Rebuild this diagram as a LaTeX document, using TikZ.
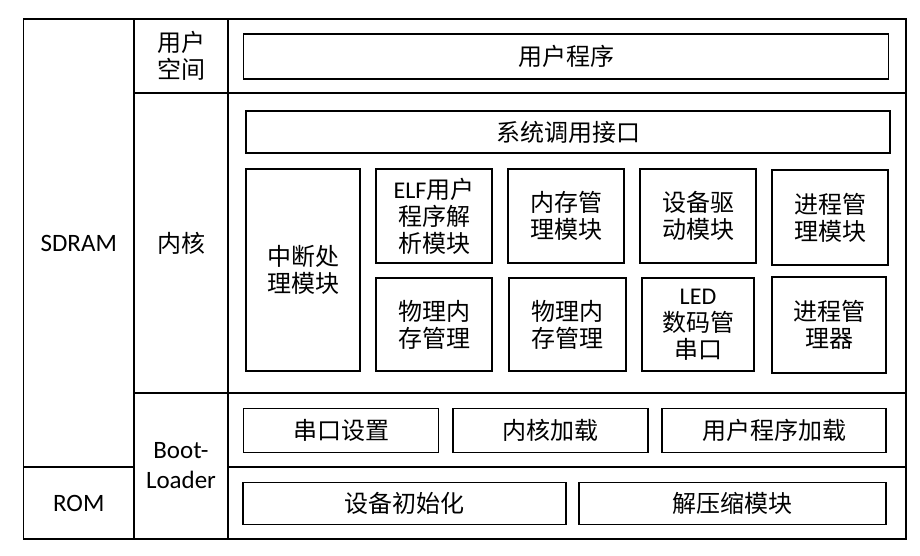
\documentclass[tikz,border=0pt]{standalone}
\usepackage{fontspec}
\setmainfont{Carlito}
\newfontfamily\latn{Carlito}
\newfontfamily\cjk{Noto Sans CJK SC}

\begin{document}
\begin{tikzpicture}[x=1pt, y=-1pt,
		cell/.style={draw, rectangle, line width=1.8pt, inner sep=0pt, align=center,
			font=\cjk\fontsize{24}{27}\selectfont},
		blk/.style={cell, line width=1.6pt},
		lbl/.style={cell, font=\latn\fontsize{25}{30}\selectfont}
		]
	\useasboundingbox (0,0) rectangle (920,556);

	% left columns
	\node [lbl, minimum width=110.5pt, minimum height=448pt] (sdram) at (78.75,243) {SDRAM};
	\node [lbl, minimum width=110.5pt, minimum height=72pt] (rom) at (78.75,503) {ROM};
	\node [cell, minimum width=94pt, minimum height=74pt] (usp) at (181,56) {用户\\空间};
	\node [cell, minimum width=94pt, minimum height=300pt] (kern) at (181,243) {内核};
	\node [lbl, minimum width=94pt, minimum height=146pt] (boot) at (181,466) {Boot-\\Loader};

	% right rows
	\node [cell, minimum width=678pt, minimum height=74pt] (rowusr) at (567,56) {};
	\node [cell, minimum width=678pt, minimum height=300pt] (rowkern) at (567,243) {};
	\node [cell, minimum width=678pt, minimum height=74pt] (rowboot) at (567,430) {};
	\node [cell, minimum width=678pt, minimum height=72pt] (rowrom) at (567,503) {};

	% user space
	\node [blk, minimum width=645pt, minimum height=44.5pt] (app) at (566,56.5) {用户程序};

	% kernel
	\node [blk, minimum width=644pt, minimum height=42.5pt] (syscall) at (568,132) {系统调用接口};
	\node [blk, minimum width=114.5pt, minimum height=202.5pt] (irq) at (303,270) {中断处\\理模块};
	\node [blk, minimum width=116.5pt, minimum height=94.5pt] (elf) at (434,216) {{\latn ELF}用户\\程序解\\析模块};
	\node [blk, minimum width=116.5pt, minimum height=94.5pt] (mem) at (566,216) {内存管\\理模块};
	\node [blk, minimum width=116pt, minimum height=94.5pt] (dev) at (698,216) {设备驱\\动模块};
	\node [blk, minimum width=116.5pt, minimum height=94.5pt] (proc) at (830,217.5) {进程管\\理模块};
	\node [blk, minimum width=116.5pt, minimum height=93.5pt] (phys1) at (434,324.5) {物理内\\存管理};
	\node [blk, minimum width=116.5pt, minimum height=93.5pt] (phys2) at (567.5,324.5) {物理内\\存管理};
	\node [blk, minimum width=112.5pt, minimum height=93.5pt] (led) at (698,324.5) {{\latn LED}\\数码管\\串口};
	\node [blk, minimum width=114.5pt, minimum height=96pt] (sched) at (829,325) {进程管\\理器};

	% bootloader
	\node [blk, minimum width=195pt, minimum height=44pt] (uart) at (341,430.5) {串口设置};
	\node [blk, minimum width=194.5pt, minimum height=44pt] (kload) at (550.5,430.5) {内核加载};
	\node [blk, minimum width=224.5pt, minimum height=44pt] (aload) at (774,430.5) {用户程序加载};
	\node [blk, minimum width=322.5pt, minimum height=42pt] (init) at (404.5,503.5) {设备初始化};
	\node [blk, minimum width=306.5pt, minimum height=42pt] (unzip) at (732.5,503.5) {解压缩模块};
\end{tikzpicture}
\end{document}
